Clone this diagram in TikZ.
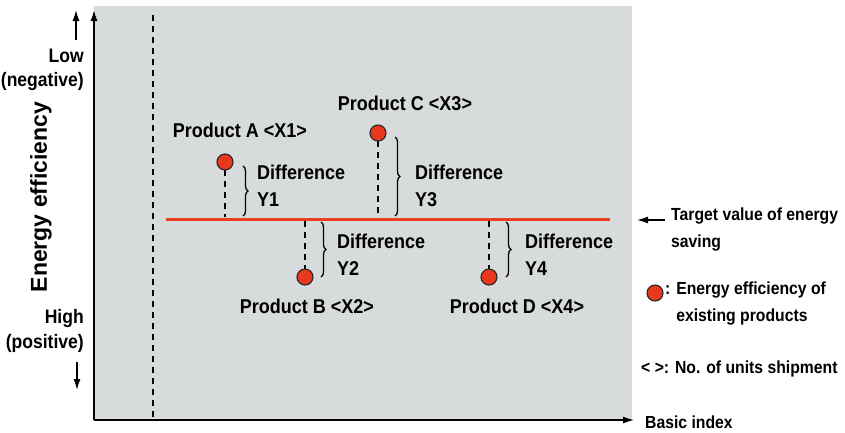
\documentclass[tikz,border=0pt]{standalone}
\usepackage{fontspec}
\setmainfont{Liberation Sans}
\newfontfamily\lf{Liberation Sans}[FakeStretch=0.9]
\usetikzlibrary{arrows.meta,decorations.pathreplacing}
\definecolor{bg}{RGB}{216,219,219}
\definecolor{redl}{RGB}{236,62,34}
\definecolor{dotred}{RGB}{232,56,30}
\tikzset{
  lab/.style={inner sep=0pt, font=\lf\bfseries\fontsize{20}{27}\selectfont},
  leg/.style={inner sep=0pt, font=\lf\bfseries\fontsize{17.5}{26.5}\selectfont, align=left},
  side/.style={inner sep=0pt, font=\lf\bfseries\fontsize{19.5}{24.5}\selectfont, align=right},
  dot/.style={circle, fill=dotred, draw=black!85, line width=1.1pt, minimum size=16pt, inner sep=0pt},
  dline/.style={line width=1.3pt, dash pattern=on 6pt off 5pt},
  brc/.style={decorate, decoration={brace, amplitude=5pt}, line width=1.3pt},
  axis/.style={line width=1.4pt, -{Latex[length=11pt,width=7pt]}},
  harr/.style={line width=1.4pt, -{Latex[length=11pt,width=7pt]}}
}
\begin{document}
\begin{tikzpicture}[x=1pt,y=-1pt]
\useasboundingbox (0,0) rectangle (845,432);
\fill[bg] (94,6) rectangle (632,420);
% axes
\coordinate (o) at (94,420);
\coordinate (ytop) at (94,10);
\coordinate (xend) at (634,420);
\draw[axis] (o) -- (ytop);
\draw[axis] (o) -- (xend);
% vertical dashed line
\coordinate (v1) at (153,15);
\coordinate (v2) at (153,420);
\draw[dline] (v1) -- (v2);
% red target line
\coordinate (r1) at (166,219);
\coordinate (r2) at (610,219);
\draw[redl, line width=3pt] (r1) -- (r2);
% Product A
\coordinate (a0) at (225,217);
\draw[dline] (225,170) -- (a0);
\node[dot] (pa) at (225,162) {};
\coordinate (ab1) at (243,166);
\coordinate (ab2) at (243,216);
\draw[brc] (ab1) -- (ab2);
\node[lab, anchor=center] (la) at (240,130) {Product A <X1>};
\node[lab, anchor=west, align=left] (da) at (257,186) {Difference\\Y1};
% Product C
\coordinate (c0) at (378,217);
\draw[dline] (378,141) -- (c0);
\node[dot] (pc) at (378,133) {};
\coordinate (cb1) at (395,137);
\coordinate (cb2) at (395,216);
\draw[brc] (cb1) -- (cb2);
\node[lab, anchor=center] (lc) at (405,103) {Product C <X3>};
\node[lab, anchor=west, align=left] (dc) at (415,186) {Difference\\Y3};
% Product B
\coordinate (b0) at (305,221);
\draw[dline] (b0) -- (305,269);
\node[dot] (pb) at (305,277) {};
\coordinate (bb1) at (321,222);
\coordinate (bb2) at (321,277);
\draw[brc] (bb1) -- (bb2);
\node[lab, anchor=center] (lb) at (307,306) {Product B <X2>};
\node[lab, anchor=west, align=left] (db) at (337,255) {Difference\\Y2};
% Product D
\coordinate (d0) at (489,221);
\draw[dline] (d0) -- (489,269);
\node[dot] (pd) at (489,277) {};
\coordinate (dbr1) at (506,222);
\coordinate (dbr2) at (506,277);
\draw[brc] (dbr1) -- (dbr2);
\node[lab, anchor=center] (ld) at (517,306) {Product D <X4>};
\node[lab, anchor=west, align=left] (dd) at (525,255) {Difference\\Y4};
% legend
\node[leg, anchor=north west] (tg) at (671,208) {Target value of energy\\saving};
\coordinate (tga) at (665,220);
\coordinate (tgb) at (637,220);
\draw[harr] (tga) -- (tgb);
\node[dot] (ldot) at (655,293) {};
\node[leg, anchor=north west] (ee) at (665,282) {: Energy efficiency of\\\hphantom{: }existing products};
\node[leg, anchor=west] (nu) at (641,369) {< >: No. of units shipment};
\node[leg, anchor=west] (bi) at (645,422) {Basic index};
% left labels
\node[side, anchor=east] (low) at (84,70) {Low\\(negative)};
\node[side, anchor=east] (high) at (84,331) {High\\(positive)};
\coordinate (ua1) at (76,40);
\coordinate (ua2) at (76,10);
\draw[harr] (ua1) -- (ua2);
\coordinate (da1) at (77,362);
\coordinate (da2) at (77,390);
\draw[harr] (da1) -- (da2);
\node[inner sep=0pt, font=\bfseries\fontsize{23}{27}\selectfont, rotate=90] (ey) at (41,197) {Energy efficiency};
\end{tikzpicture}
\end{document}
